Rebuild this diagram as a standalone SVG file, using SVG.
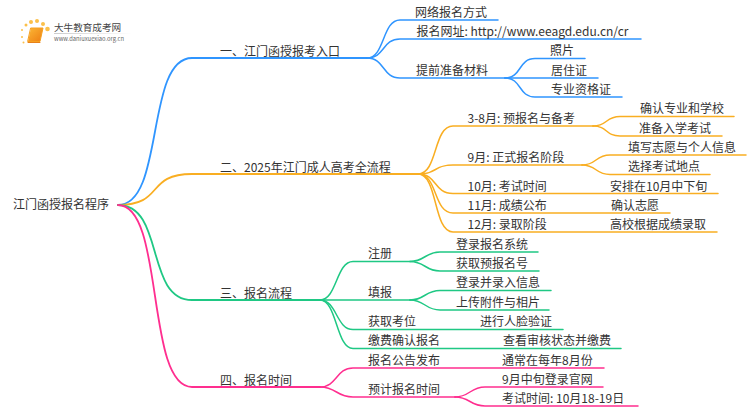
<svg xmlns="http://www.w3.org/2000/svg" width="750" height="410" viewBox="0 0 750 410">
<defs>
<linearGradient id="book" x1="0" y1="0" x2="1" y2="1"><stop offset="0" stop-color="#fbb735"/><stop offset="1" stop-color="#ee7d12"/></linearGradient>
<linearGradient id="rule" x1="0" y1="0" x2="1" y2="0"><stop offset="0" stop-color="#ccc"/><stop offset="1" stop-color="#fff"/></linearGradient>
</defs>
<style>
text{font-family:"Noto Sans CJK SC","Noto Sans",sans-serif;font-size:12px;fill:#333}
path{fill:none;stroke-width:1.5;stroke-linecap:round}
.b{stroke:#2f95ff}.o{stroke:#f9ae22}.g{stroke:#1fc884}.p{stroke:#ff2e8f}
.m{stroke-width:1.8}
</style>
<rect width="750" height="410" fill="#fff"/>
<g id="connectors">
<path class="b m" d="M118 205C165 205 145 58 192 58H367"/>
<path class="o m" d="M118 205C165 205 145 174 192 174H418"/>
<path class="g m" d="M118 205C165 205 145 300 192 300H320"/>
<path class="p m" d="M118 205C165 205 145 387 192 387H320"/>
<path class="b" d="M367 58C385 58 382 20 400 20H498"/>
<path class="b" d="M367 58C385 58 382 39 400 39H641"/>
<path class="b" d="M367 58C385 58 382 78 400 78H505"/>
<path class="b" d="M505 78C522 78 518 58.500 535 58.500H585"/>
<path class="b" d="M505 78H598"/>
<path class="b" d="M505 78C522 78 518 97 535 97H622"/>
<path class="o" d="M418 174C438 174 433 126 453 126H593"/>
<path class="o" d="M418 174C438 174 433 165 453 165H582"/>
<path class="o" d="M418 174C438 174 433 193.500 453 193.500H718"/>
<path class="o" d="M418 174C438 174 433 213 453 213H670"/>
<path class="o" d="M418 174C438 174 433 232 453 232H717"/>
<path class="o" d="M593 126C608 126 605 116.500 620 116.500H734"/>
<path class="o" d="M593 126C608 126 605 136 620 136H722"/>
<path class="o" d="M582 165C597 165 595 155 610 155H746"/>
<path class="o" d="M582 165C597 165 595 174.500 610 174.500H710"/>
<path class="g" d="M320 300C337 300 336 261.500 353 261.500H410"/>
<path class="g" d="M320 300H410"/>
<path class="g" d="M320 300C337 300 336 329.500 353 329.500H563"/>
<path class="g" d="M320 300C337 300 336 348.500 353 348.500H621"/>
<path class="g" d="M410 261.500C425 261.500 425 252 440 252H538"/>
<path class="g" d="M410 261.500C425 261.500 425 271 440 271H539"/>
<path class="g" d="M410 300C425 300 425 290.500 440 290.500H551"/>
<path class="g" d="M410 300C425 300 425 310 440 310H549"/>
<path class="p" d="M320 387C337 387 336 368 353 368H604"/>
<path class="p" d="M320 387C337 387 336 397 353 397H455"/>
<path class="p" d="M455 397C470 397 470 387 485 387H603"/>
<path class="p" d="M455 397C470 397 470 406 485 406H638"/>
</g>
<g id="logo">
<g fill="#fbc04a"><circle cx="22" cy="30" r="1"/><circle cx="26" cy="25" r="1.500"/><circle cx="31" cy="22" r="2"/><circle cx="37" cy="21" r="2"/><circle cx="43" cy="24" r="2"/><circle cx="47.500" cy="29" r="2.300"/><circle cx="22" cy="37" r="1"/><circle cx="23.500" cy="42.500" r="1"/></g>
<path d="M31 28H43L40 41.500H28Z" style="fill:url(#book);stroke:#f6a020;stroke-width:1;stroke-linejoin:round"/>
<path d="M28 42.500H40" style="stroke:#e8801a;stroke-width:1"/>
<text x="54" y="31" style="font-size:9.600px;fill:#444">大牛教育成考网</text>
<rect x="54" y="33" width="78" height="1" fill="url(#rule)"/>
<text x="54" y="41" style="font-size:5.800px;fill:#666">www.daniuxuexiao.org.cn</text>
</g>
<g id="root"><text x="13" y="209">江门函授报名程序</text></g>
<g id="n1"><text x="220" y="55.500">一、江门函授报考入口</text></g>
<g id="n1-1"><text x="415" y="17">网络报名方式</text></g>
<g id="n1-2"><text x="416.500" y="36">报名网址: http://www.eeagd.edu.cn/cr</text></g>
<g id="n1-3"><text x="416" y="75">提前准备材料</text></g>
<g id="n1-3-1"><text x="550" y="55">照片</text></g>
<g id="n1-3-2"><text x="551" y="75">居住证</text></g>
<g id="n1-3-3"><text x="551" y="94">专业资格证</text></g>
<g id="n2"><text x="220" y="171.500">二、2025年江门成人高考全流程</text></g>
<g id="n2-1"><text x="467.500" y="123">3-8月: 预报名与备考</text></g>
<g id="n2-1-1"><text x="640" y="113">确认专业和学校</text></g>
<g id="n2-1-2"><text x="639" y="133">准备入学考试</text></g>
<g id="n2-2"><text x="467.500" y="162">9月: 正式报名阶段</text></g>
<g id="n2-2-1"><text x="628" y="152">填写志愿与个人信息</text></g>
<g id="n2-2-2"><text x="628" y="171">选择考试地点</text></g>
<g id="n2-3"><text x="467.500" y="191">10月: 考试时间</text></g>
<g id="n2-3-1"><text x="610" y="191">安排在10月中下旬</text></g>
<g id="n2-4"><text x="467.500" y="210">11月: 成绩公布</text></g>
<g id="n2-4-1"><text x="611" y="210">确认志愿</text></g>
<g id="n2-5"><text x="467.500" y="229">12月: 录取阶段</text></g>
<g id="n2-5-1"><text x="610" y="229">高校根据成绩录取</text></g>
<g id="n3"><text x="220" y="297.500">三、报名流程</text></g>
<g id="n3-1"><text x="368" y="258">注册</text></g>
<g id="n3-1-1"><text x="456" y="249">登录报名系统</text></g>
<g id="n3-1-2"><text x="456" y="268">获取预报名号</text></g>
<g id="n3-2"><text x="368" y="297">填报</text></g>
<g id="n3-2-1"><text x="456" y="287">登录并录入信息</text></g>
<g id="n3-2-2"><text x="456" y="307">上传附件与相片</text></g>
<g id="n3-3"><text x="368" y="326">获取考位</text></g>
<g id="n3-3-1"><text x="480" y="326">进行人脸验证</text></g>
<g id="n3-4"><text x="368" y="345">缴费确认报名</text></g>
<g id="n3-4-1"><text x="503" y="345">查看审核状态并缴费</text></g>
<g id="n4"><text x="220" y="384.500">四、报名时间</text></g>
<g id="n4-1"><text x="368" y="365">报名公告发布</text></g>
<g id="n4-1-1"><text x="502" y="365">通常在每年8月份</text></g>
<g id="n4-2"><text x="368" y="394">预计报名时间</text></g>
<g id="n4-2-1"><text x="502" y="384">9月中旬登录官网</text></g>
<g id="n4-2-2"><text x="502" y="403">考试时间: 10月18-19日</text></g>
</svg>
